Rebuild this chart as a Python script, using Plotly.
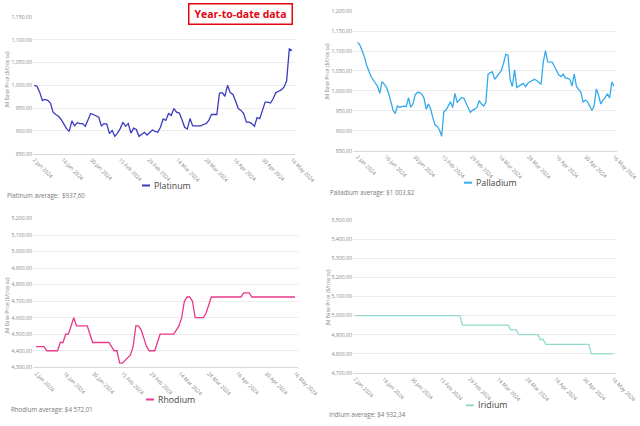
import plotly.graph_objects as go

# ---------------- data ----------------
tick_labels = ["2 Jan 2024", "16 Jan 2024", "30 Jan 2024", "15 Feb 2024", "29 Feb 2024",
               "14 Mar 2024", "28 Mar 2024", "16 Apr 2024", "30 Apr 2024", "16 May 2024"]

platinum = [1000, 998, 985, 967, 969, 967, 961, 941, 936, 932,
            925, 914, 905, 899, 922, 911, 918, 916, 916, 910,
            923, 938, 936, 933, 930, 911, 916, 915, 894, 901,
            888, 895, 905, 919, 910, 916, 895, 906, 903, 888,
            892, 897, 891, 897, 902, 899, 897, 908, 926, 923,
            938, 934, 949, 941, 939, 925, 908, 904, 927, 911,
            911, 911, 911, 914, 916, 923, 936, 936, 936, 983,
            984, 976, 1000, 984, 980, 965, 949, 945, 938, 919,
            919, 916, 910, 929, 927, 945, 963, 963, 961, 971,
            984, 987, 990, 996, 1010, 1080, 1076]

palladium = [1122, 1115, 1101, 1086, 1065, 1048, 1036, 1028, 1019, 1011,
             994, 1023, 1017, 1009, 994, 973, 952, 943, 962, 959,
             961, 962, 961, 983, 959, 967, 990, 996, 996, 992,
             982, 954, 967, 955, 933, 915, 911, 902, 886, 948,
             952, 961, 973, 958, 994, 971, 977, 983, 982, 971,
             957, 946, 952, 954, 959, 976, 967, 962, 971, 1042,
             1046, 1048, 1029, 1036, 1044, 1051, 1069, 1092, 1090, 1028,
             1011, 1053, 1009, 1012, 1017, 1019, 1011, 1019, 1023, 1026,
             1029, 1026, 1021, 1017, 1073, 1101, 1073, 1072, 1072, 1062,
             1051, 1040, 1036, 1042, 1032, 1032, 1029, 1012, 1042, 1011,
             1004, 997, 972, 977, 973, 961, 951, 962, 1005, 990,
             967, 977, 983, 993, 982, 1022, 1012]

rhodium = [4425, 4425, 4425, 4425, 4400, 4400, 4400, 4400, 4400, 4450,
           4450, 4500, 4500, 4550, 4600, 4550, 4550, 4550, 4550, 4550,
           4500, 4450, 4450, 4450, 4450, 4450, 4450, 4450, 4425, 4400,
           4400, 4325, 4325, 4340, 4360, 4375, 4425, 4550, 4550, 4525,
           4475, 4425, 4400, 4400, 4400, 4450, 4500, 4500, 4500, 4500,
           4500, 4500, 4525, 4550, 4600, 4700, 4725, 4725, 4700, 4600,
           4600, 4600, 4600, 4625, 4675, 4725, 4725, 4725, 4725, 4725,
           4725, 4725, 4725, 4725, 4725, 4725, 4725, 4750, 4750, 4750,
           4725, 4725, 4725, 4725, 4725, 4725, 4725, 4725, 4725, 4725,
           4725, 4725, 4725, 4725, 4725, 4725, 4725]

iridium = ([5000] * 40 + [4950] * 18 + [4925] * 3 + [4900] * 8 +
           [4875] * 2 + [4850] * 17 + [4800] * 9)

names = ["Platinum", "Palladium", "Rhodium", "Iridium"]
averages = ["Platinum average:  $937,60", "Palladium average: $1 003,82",
            "Rhodium average: $4 572,01", "Iridium average: $4 932,34"]
colors = ["#3b3bbd", "#33aaec", "#e8388b", "#92dacd"]
y_ranges = [(850, 1150, 50), (850, 1200, 50), (4300, 5200, 100), (4700, 5500, 100)]
series = [platinum, palladium, rhodium, iridium]

# ---------------- layout geometry (pixels) ----------------
W, H = 640, 426
FONT = "Open Sans"


def fx(x):
    return x / W


def fy(y):
    return 1 - y / H


# plot area: left, right, top, bottom ; first/last data pixel
panels = [
    dict(l=33, r=295, t=16.7, b=153.7, x0=34.3, x1=292),
    dict(l=353, r=617, t=11, b=150.7, x0=357.7, x1=614),
    dict(l=33, r=298, t=218.3, b=367.3, x0=36, x1=295),
    dict(l=353, r=616, t=219.7, b=373, x0=355, x1=613),
]
ytitle_pos = [(6.5, 80), (326.5, 72), (6.5, 306), (327.5, 298)]
legend_pos = [(142, 185.5), (464, 182.7), (146, 399.5), (466, 405.3)]
avg_pos = [(4.7, 195), (328, 192.7), (8.5, 409.7), (326.5, 414.7)]

fig = go.Figure()
layout = dict(
    width=W, height=H, margin=dict(l=0, r=0, t=0, b=0, autoexpand=False),
    paper_bgcolor="white", plot_bgcolor="white", showlegend=False,
    font=dict(family=FONT, color="#888"),
)
annotations = []
shapes = []

for k in range(4):
    vals = series[k]
    n = len(vals)
    p = panels[k]
    sfx = "" if k == 0 else str(k + 1)
    upx = (p["x1"] - p["x0"]) / (n - 1)
    xr = [-(p["x0"] - p["l"]) / upx, (n - 1) + (p["r"] - p["x1"]) / upx]
    fig.add_trace(go.Scatter(
        x=list(range(n)), y=vals, mode="lines", name=names[k],
        line=dict(color=colors[k], width=1.3),
        xaxis="x" + sfx, yaxis="y" + sfx, hoverinfo="skip"))
    lo, hi, step = y_ranges[k]
    layout["xaxis" + sfx] = dict(
        domain=[fx(p["l"]), fx(p["r"])], range=xr, anchor="y" + sfx,
        tickvals=[i * (n - 1) / 9 for i in range(10)], ticktext=tick_labels,
        tickangle=45, tickfont=dict(size=5.3, color="#808080"), automargin=False,
        showgrid=False, zeroline=False, showline=True, linecolor="#d8d8d8",
        linewidth=1, ticks="", fixedrange=True)
    layout["yaxis" + sfx] = dict(
        domain=[fy(p["b"]), fy(p["t"])], range=[lo - 0.001 * step, hi + 0.01 * step],
        anchor="x" + sfx, tick0=lo, dtick=step, tickformat=",.2f", automargin=False,
        tickfont=dict(size=5.2, color="#888"), showgrid=True, gridcolor="#ececec",
        gridwidth=1, zeroline=False, showline=False, ticks="", fixedrange=True)
    # axis title
    tx, ty = ytitle_pos[k]
    annotations.append(dict(
        text="JM Base Price ($/troy oz)", x=fx(tx), y=fy(ty), xref="paper", yref="paper",
        showarrow=False, textangle=-90, font=dict(size=5, color="#888"),
        xanchor="center", yanchor="middle"))
    # legend key + label
    lx, ly = legend_pos[k]
    shapes.append(dict(type="line", xref="paper", yref="paper",
                       x0=fx(lx), x1=fx(lx + 8), y0=fy(ly), y1=fy(ly),
                       line=dict(color=colors[k], width=2)))
    annotations.append(dict(
        text=names[k], x=fx(lx + 9.5), y=fy(ly), xref="paper", yref="paper",
        showarrow=False, xanchor="left", yanchor="middle",
        font=dict(size=8.8, color="#444")))
    # average text
    ax, ay = avg_pos[k]
    annotations.append(dict(
        text=averages[k], x=fx(ax), y=fy(ay), xref="paper", yref="paper",
        showarrow=False, xanchor="left", yanchor="middle",
        font=dict(size=6.2, color="#777")))

# title box
annotations.append(dict(
    text="<b>Year-to-date data</b>", x=fx(240.7), y=fy(13.7), xref="paper", yref="paper",
    showarrow=False, xanchor="center", yanchor="middle",
    font=dict(size=10.5, color="#e30613", family=FONT),
    bordercolor="#e30613", borderwidth=1.5, borderpad=2, width=98, height=15,
    bgcolor="white"))

layout["annotations"] = annotations
layout["shapes"] = shapes
fig.update_layout(**layout)
fig.write_html("out.html", config={"displayModeBar": False},
               post_script="document.body.style.margin='0';document.body.style.overflow='hidden';")
